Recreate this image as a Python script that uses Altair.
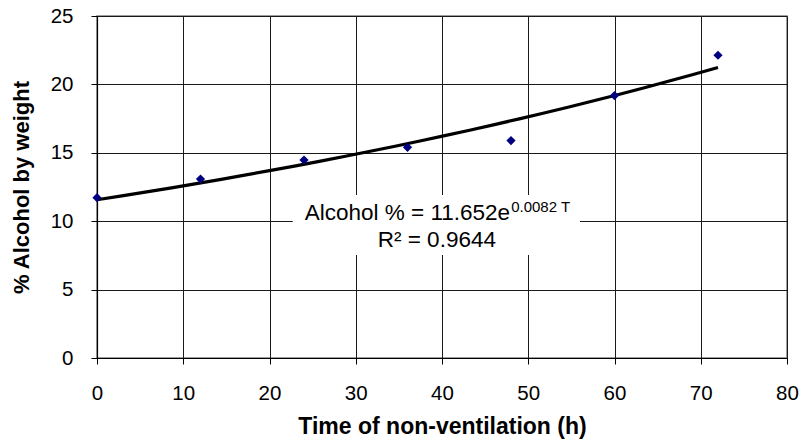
import altair as alt
import pandas as pd

# Data
hours = [0, 12, 24, 36, 48, 60, 72]
alcohol = [11.72, 13.08, 14.47, 15.40, 15.89, 19.18, 22.13]

# Annotation (equation box) content
eq_main = "Alcohol % = 11.652e"
eq_sup = "0.0082  T"
eq_r2 = "R\u00b2 = 0.9644"

FONT = "Liberation Sans"

df = pd.DataFrame({"T": hours, "alcohol": alcohol})

x_scale = alt.Scale(domain=[0, 80], nice=False, zero=True)
y_scale = alt.Scale(domain=[0, 25], nice=False, zero=True)

x_axis = alt.Axis(
    values=[0, 10, 20, 30, 40, 50, 60, 70, 80],
    title="Time of non-ventilation (h)",
    titleFont=FONT, titleFontSize=23, titleFontWeight="bold", titleColor="#000",
    titleBaseline="alphabetic", titleY=75,
    labelFont=FONT, labelFontSize=20.5, labelColor="#000", labelPadding=19,
    tickSize=6, tickColor="#000", domainColor="#000", domainWidth=1.2,
    grid=True, gridColor="#1a1a1a", gridWidth=1,
    labelFlush=False, labelOverlap=False,
)
y_axis = alt.Axis(
    values=[0, 5, 10, 15, 20, 25],
    title="% Alcohol by weight",
    titleFont=FONT, titleFontSize=22, titleFontWeight="bold", titleColor="#000",
    titleAngle=-90, titleBaseline="alphabetic", titleX=-69, titleAlign="center",
    labelFont=FONT, labelFontSize=20.5, labelColor="#000", labelPadding=18,
    tickSize=6, tickColor="#000", domainColor="#000", domainWidth=1.2,
    grid=True, gridColor="#1a1a1a", gridWidth=1,
    labelFlush=False, labelOverlap=False,
)

base = alt.Chart(df)

points = base.mark_point(shape="diamond", filled=True, color="#000080", size=85, opacity=1).encode(
    x=alt.X("T:Q", scale=x_scale, axis=x_axis),
    y=alt.Y("alcohol:Q", scale=y_scale, axis=y_axis),
)

trend = base.transform_regression(
    "T", "alcohol", method="exp", extent=[0, 72]
).mark_line(color="#000", strokeWidth=3.2).encode(
    x=alt.X("T:Q", scale=x_scale),
    y=alt.Y("alcohol:Q", scale=y_scale),
)

box_df = pd.DataFrame({"x1": [22.7], "x2": [56.0], "y1": [7.53], "y2": [11.92]})
box = alt.Chart(box_df).mark_rect(color="white").encode(
    x=alt.X("x1:Q", scale=x_scale), x2="x2:Q",
    y=alt.Y("y1:Q", scale=y_scale), y2="y2:Q",
)

ann_df = pd.DataFrame({
    "label": [eq_main, eq_sup, eq_r2],
    "tx": [47.9, 47.9, 39.4],
    "ty": [10.09, 10.67, 8.11],
})

ann_main = alt.Chart(ann_df.iloc[[0]]).mark_text(
    font=FONT, fontSize=22.5, align="right", baseline="alphabetic", color="#000"
).encode(x=alt.X("tx:Q", scale=x_scale), y=alt.Y("ty:Q", scale=y_scale), text="label:N")
ann_sup = alt.Chart(ann_df.iloc[[1]]).mark_text(
    font=FONT, fontSize=15, align="left", baseline="alphabetic", color="#000", dx=1
).encode(x=alt.X("tx:Q", scale=x_scale), y=alt.Y("ty:Q", scale=y_scale), text="label:N")
ann_r2 = alt.Chart(ann_df.iloc[[2]]).mark_text(
    font=FONT, fontSize=22.5, align="center", baseline="alphabetic", color="#000"
).encode(x=alt.X("tx:Q", scale=x_scale), y=alt.Y("ty:Q", scale=y_scale), text="label:N")

chart = alt.layer(box, trend, points, ann_main, ann_sup, ann_r2).properties(
    width=690, height=342,
    autosize=alt.AutoSizeParams(type="none"),
    padding={"left": 97, "top": 16, "right": 14, "bottom": 85},
    background="white",
).configure_view(stroke="#808080", strokeWidth=1.5)

chart.save("out.html", embed_options={"renderer": "svg", "actions": False})
